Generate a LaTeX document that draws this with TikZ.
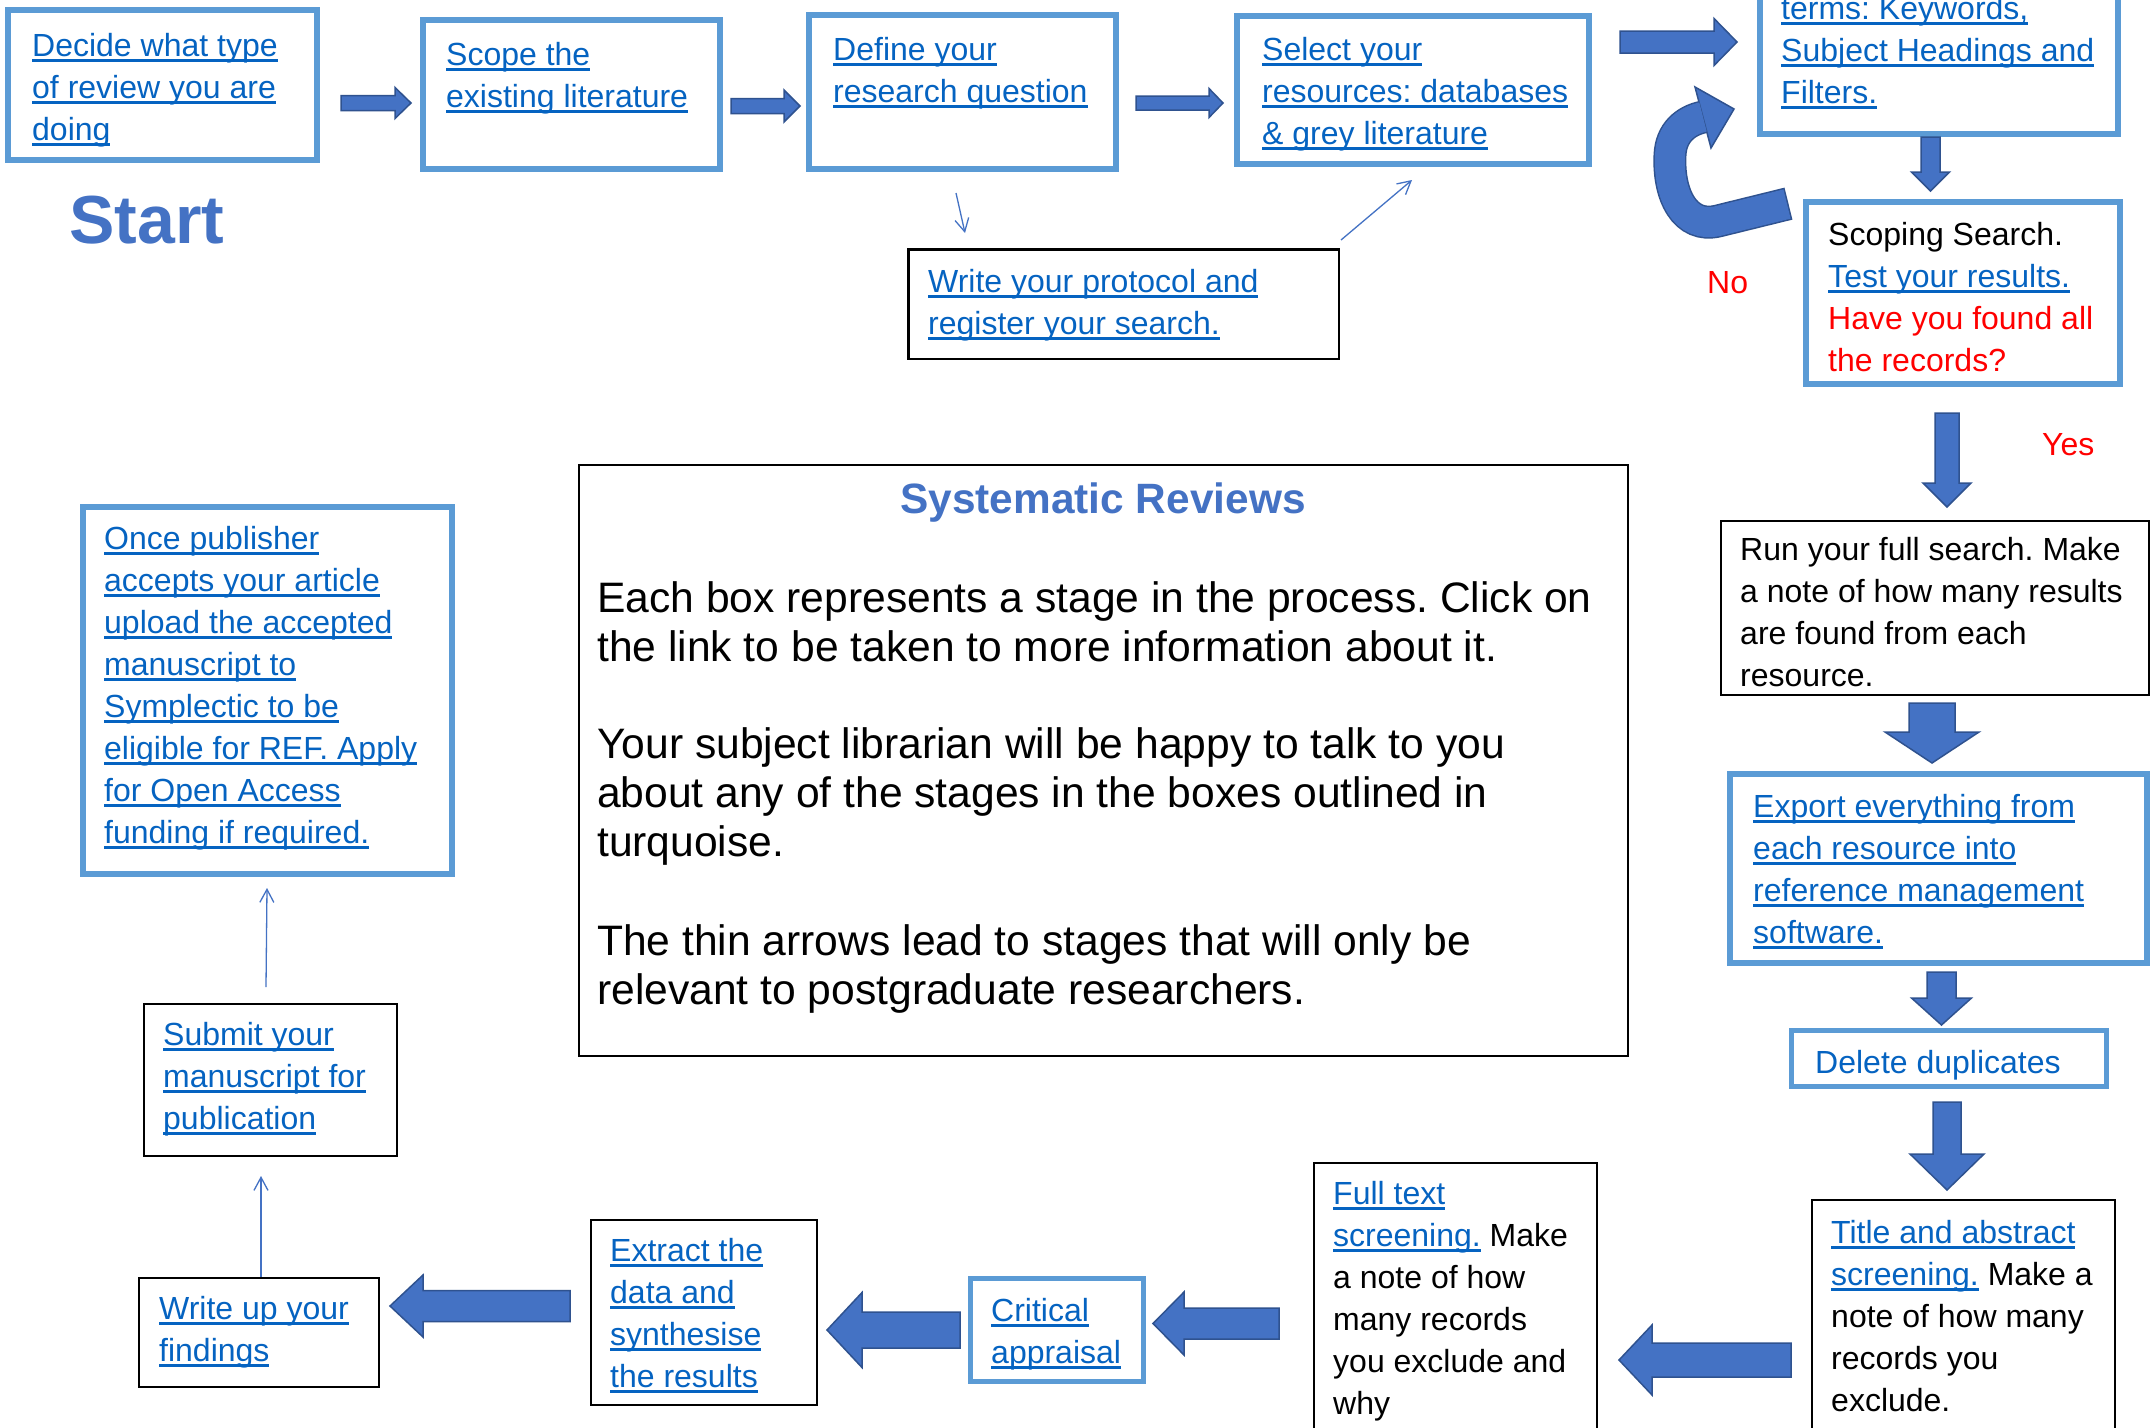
\documentclass[tikz,border=0pt]{standalone}
\usepackage{fontspec}
\setmainfont{Liberation Sans}
\usetikzlibrary{arrows.meta,calc}
\frenchspacing
\definecolor{lbc}{HTML}{5B9BD5}
\definecolor{afill}{HTML}{4472C4}
\definecolor{aline}{HTML}{2F528F}
\definecolor{linkc}{HTML}{0563C1}
\definecolor{redc}{HTML}{FF0000}
\newcommand{\lk}[1]{\begingroup\color{linkc}\sbox0{#1}\rlap{\rule[-5.5pt]{\wd0}{2.6pt}}\usebox0\endgroup}
% right/left block arrow: x tail, x head base, x tip, y centre, shaft half, head half
\newcommand{\hblk}[6]{\draw[blk] (#1,#4-#5) -- (#2,#4-#5) -- (#2,#4-#6) -- (#3,#4) -- (#2,#4+#6) -- (#2,#4+#5) -- (#1,#4+#5) -- cycle;}
% down block arrow: y tail, y head base, y tip, x centre, shaft half, head half
\newcommand{\vblk}[6]{\draw[blk] (#4-#5,#1) -- (#4-#5,#2) -- (#4-#6,#2) -- (#4,#3) -- (#4+#6,#2) -- (#4+#5,#2) -- (#4+#5,#1) -- cycle;}
\begin{document}
\frenchspacing
\begin{tikzpicture}[x=1pt,y=-1pt,
 lb/.style={draw=lbc, line width=6pt, rectangle, inner sep=0pt, fill=white},
 bk/.style={draw=black, line width=1.8pt, rectangle, inner sep=0pt, fill=white},
 txt/.style={inner sep=0pt, anchor=north west, align=left, font=\fontsize{32}{42}\selectfont, yshift=29.4pt},
 bigtxt/.style={inner sep=0pt, anchor=north west, align=left, font=\fontsize{42.6}{49}\selectfont, yshift=34.3pt},
 onel/.style={inner sep=0pt, anchor=base west, font=\fontsize{32}{42}\selectfont},
 blk/.style={fill=afill, draw=aline, line width=1.5pt, line join=miter},
 thinarr/.style={draw=afill, line width=1.3pt, -{Straight Barb[length=13pt,width=14pt]}}
]
\useasboundingbox (0,0) rectangle (2152,1427);
\fill[white] (0,0) rectangle (2152,1427);
\clip (0,0) rectangle (2152,1427);

% ---------- boxes ----------
\node[lb, minimum width=309, minimum height=150] (b1) at (162.5,85) {};
\node[lb, minimum width=297, minimum height=149] (b2) at (571.5,94.5) {};
\node[lb, minimum width=307, minimum height=154] (b3) at (962.5,92) {};
\node[lb, minimum width=352, minimum height=148] (b4) at (1413,90) {};
\node[lb, minimum width=358, minimum height=191] (b5) at (1939,38.5) {};
\node[lb, minimum width=314, minimum height=182] (sc) at (1963,293) {};
\node[bk, line width=2.5pt, minimum width=430.5, minimum height=109.5] (proto) at (1123.5,304) {};
\node[bk, minimum width=428.2, minimum height=174.2] (run) at (1935,608) {};
\node[lb, minimum width=417, minimum height=189] (exp) at (1938.5,868.5) {};
\node[lb, line width=5pt, minimum width=315, minimum height=56] (del) at (1949,1058.5) {};
\node[bk, minimum width=303.2, minimum height=299.2] (tia) at (1963.5,1349.5) {};
\node[bk, minimum width=283.2, minimum height=336.2] (full) at (1455.5,1331) {};
\node[lb, line width=5pt, minimum width=173, minimum height=103] (crit) at (1057,1330) {};
\node[bk, line width=2pt, minimum width=226, minimum height=185] (extr) at (704,1312.5) {};
\node[bk, line width=2pt, minimum width=240, minimum height=109] (wu) at (259,1332.5) {};
\node[bk, line width=2pt, minimum width=253, minimum height=152] (sub) at (270.5,1080) {};
\node[lb, minimum width=369, minimum height=367] (once) at (267.5,690.5) {};
\node[bk, minimum width=1049.2, minimum height=591.2] (cen) at (1103.5,760.5) {};

% ---------- texts ----------
\node[txt] (t1) at (32,56) {\strut\lk{Decide what type}\\\lk{of review you are}\\\lk{doing}};
\node[txt] (t2) at (446,65) {\strut\lk{Scope the}\\\lk{existing literature}};
\node[txt] (t3) at (833,60) {\strut\lk{Define your}\\\lk{research question}};
\node[txt] (t4) at (1262,60) {\strut\lk{Select your}\\\lk{resources: databases}\\\lk{\& grey literature}};
\node[txt] (tp) at (928,292) {\strut\lk{Write your protocol and}\\\lk{register your search.}};
\node[txt] (t5) at (1781,19) {\strut\lk{terms: Keywords,}\\\lk{Subject Headings and}\\\lk{Filters.}};
\node[txt] (tsc) at (1828,245) {\strut Scoping Search.\\\lk{Test your results.}\\\textcolor{redc}{Have you found all}\\\textcolor{redc}{the records?}};
\node[txt] (trun) at (1740,560) {\strut Run your full search. Make\\a note of how many results\\are found from each\\resource.};
\node[txt] (texp) at (1753,817) {\strut\lk{Export everything from}\\\lk{each resource into}\\\lk{reference management}\\\lk{software.}};
\node[onel, text=linkc] (tdel) at (1815,1073) {Delete duplicates};
\node[txt] (ttia) at (1831,1243) {\strut\lk{Title and abstract}\\\lk{screening.} Make a\\note of how many\\records you\\exclude.};
\node[txt] (tfull) at (1333,1204) {\strut\lk{Full text}\\\lk{screening.} Make\\a note of how\\many records\\you exclude and\\why};
\node[txt] (tcrit) at (991,1321) {\strut\lk{Critical}\\\lk{appraisal}};
\node[txt] (textr) at (610,1261) {\strut\lk{Extract the}\\\lk{data and}\\\lk{synthesise}\\\lk{the results}};
\node[txt] (twu) at (159,1319) {\strut\lk{Write up your}\\\lk{findings}};
\node[txt] (tsub) at (163,1045) {\strut\lk{Submit your}\\\lk{manuscript for}\\\lk{publication}};
\node[txt] (tonce) at (104,549) {\strut\lk{Once publisher}\\\lk{accepts your article}\\\lk{upload the accepted}\\\lk{manuscript to}\\\lk{Symplectic to be}\\\lk{eligible for REF. Apply}\\\lk{for Open Access}\\\lk{funding if required.}};

\node[inner sep=0pt, anchor=base, text=afill, font=\fontsize{42.4}{49}\selectfont\bfseries] (ctitle) at (1103,513) {Systematic Reviews};
\node[bigtxt] (c1) at (597,612) {\strut Each box represents a stage in the process. Click on\\the link to be taken to more information about it.};
\node[bigtxt] (c2) at (597,758) {\strut Your subject librarian will be happy to talk to you\\about any of the stages in the boxes outlined in\\turquoise.};
\node[bigtxt] (c3) at (597,955) {\strut The thin arrows lead to stages that will only be\\relevant to postgraduate researchers.};

\node[inner sep=0pt, anchor=base west, text=afill, font=\fontsize{68}{80}\selectfont\bfseries] (start) at (69,243) {Start};
\node[onel, text=redc] (no) at (1707,293) {No};
\node[onel, text=redc] (yes) at (2042,455) {Yes};

% ---------- block arrows ----------
\hblk{341}{395}{411}{103}{7.5}{15.5}
\hblk{731}{784}{800}{106}{7.5}{16}
\hblk{1136}{1209}{1223}{103}{7}{14.5}
\hblk{1620}{1714}{1737}{42}{11}{23.5}
\vblk{137}{172}{191}{1930.5}{9.5}{19}
\vblk{413}{483}{507}{1947}{12}{24}
\vblk{703}{732}{763}{1932}{23}{47}
\vblk{972}{998}{1025}{1941.5}{14.5}{30}
\vblk{1102}{1154}{1190}{1947}{14}{37}
\hblk{1791}{1652}{1619}{1360}{17}{35}
\hblk{1279}{1184}{1153}{1323.5}{15.5}{31.5}
\hblk{960}{862}{827}{1330}{18}{37.5}
\hblk{570}{423}{390}{1306}{15.5}{31}

% curved "No" arrow
\draw[aline, line width=33pt, shorten <=-1.5pt] (1787,204) -- (1718,221) .. controls (1685,229) and (1668,195) .. (1670,155) .. controls (1671,133) and (1685,121) .. (1703,117);
\draw[blk] (1695,87) -- (1734,109) -- (1711,148) -- cycle;
\draw[afill, line width=30pt] (1787,204) -- (1718,221) .. controls (1685,229) and (1668,195) .. (1670,155) .. controls (1671,133) and (1685,121) .. (1703,117);

% ---------- thin arrows ----------
\coordinate (a1s) at ($(b3.south)+(-6.5,21)$);
\coordinate (a1e) at (965,233);
\draw[thinarr] (a1s) -- (a1e);
\coordinate (a2s) at ($(proto.north east)+(1,-8)$);
\coordinate (a2e) at ($(b4.south)+(-1,13)$);
\draw[thinarr] (a2s) -- (a2e);
\draw[thinarr] ($(wu.north)+(2,0)$) -- ++(0,-101);
\draw[thinarr] ($(sub.north)+(-4.5,-16)$) -- ++(1,-99);
\end{tikzpicture}
\end{document}
